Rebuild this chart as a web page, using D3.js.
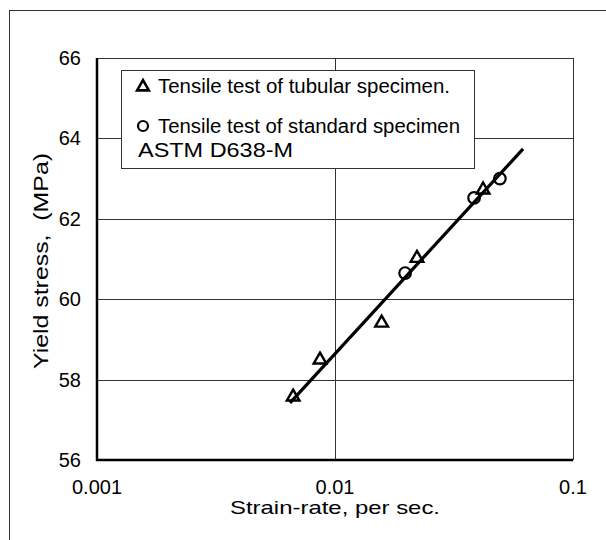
<!DOCTYPE html>
<html>
<head>
<meta charset="utf-8">
<script src="https://cdn.jsdelivr.net/npm/d3@7"></script>
<style>
  body { margin: 0; background: #fff; }
  svg { display: block; font-family: "Liberation Sans", Arial, sans-serif; }
</style>
</head>
<body>
<div class="visualization"></div>
<script>
// strain-rate (per sec) and yield stress (MPa)
const tubularRate = [0.00667, 0.00865, 0.0157, 0.0221, 0.0419];
const tubularStress = [57.57, 58.49, 59.41, 61.02, 62.72];
const standardRate = [0.0197, 0.0384, 0.0493];
const standardStress = [60.65, 62.52, 63.0];
const fitRate = [0.00647, 0.0617];
const fitStress = [57.42, 63.74];
const xTicks = [0.001, 0.01, 0.1];
const xTickLabels = ['0.001', '0.01', '0.1'];
const yTicks = [56, 58, 60, 62, 64, 66];
const legendLabels = ['Tensile test of tubular specimen.', 'Tensile test of standard specimen', 'ASTM D638-M'];

const width = 606, height = 540;
const margin = {top: 58, left: 97, right: 33, bottom: 80};

const svg = d3.select('.visualization').append('svg')
    .attr('width', width)
    .attr('height', height);

// outer frame (runs off the right and bottom of the picture)
svg.append('rect')
    .attr('x', 9.5).attr('y', 10.5)
    .attr('width', 620).attr('height', 560)
    .attr('fill', 'none')
    .attr('stroke', '#333')
    .attr('stroke-width', 1);

const x = d3.scaleLog()
    .domain([0.001, 0.1])
    .range([margin.left, width - margin.right]);
const y = d3.scaleLinear()
    .domain([56, 66])
    .range([height - margin.bottom, margin.top]);

const grid = svg.append('g').attr('class', 'grid');
grid.selectAll('.hgrid')
    .data(yTicks.slice(1, -1))
    .enter().append('line')
    .attr('x1', x.range()[0]).attr('x2', x.range()[1])
    .attr('y1', d => Math.round(y(d)) + 0.5).attr('y2', d => Math.round(y(d)) + 0.5)
    .attr('stroke', '#333').attr('stroke-width', 1);
grid.selectAll('.vgrid')
    .data(xTicks.slice(1, -1))
    .enter().append('line')
    .attr('x1', d => Math.round(x(d)) + 0.5).attr('x2', d => Math.round(x(d)) + 0.5)
    .attr('y1', y.range()[1]).attr('y2', y.range()[0])
    .attr('stroke', '#333').attr('stroke-width', 1);

// plot frame: thin top/right, heavy left/bottom
svg.append('line')
    .attr('x1', x.range()[0]).attr('x2', x.range()[1])
    .attr('y1', y(66) + 0.5).attr('y2', y(66) + 0.5)
    .attr('stroke', '#333').attr('stroke-width', 1);
svg.append('line')
    .attr('x1', x.range()[1] + 0.5).attr('x2', x.range()[1] + 0.5)
    .attr('y1', y.range()[1]).attr('y2', y.range()[0])
    .attr('stroke', '#333').attr('stroke-width', 1);
svg.append('line')
    .attr('x1', x.range()[0]).attr('x2', x.range()[0])
    .attr('y1', y.range()[1]).attr('y2', y.range()[0] + 1)
    .attr('stroke', '#000').attr('stroke-width', 2.5);
svg.append('line')
    .attr('x1', x.range()[0] - 1).attr('x2', x.range()[1])
    .attr('y1', y.range()[0]).attr('y2', y.range()[0])
    .attr('stroke', '#000').attr('stroke-width', 2.5);

// tick labels
svg.append('g').selectAll('text')
    .data(yTicks)
    .enter().append('text')
    .attr('x', 81)
    .attr('y', d => y(d))
    .attr('dy', '0.35em')
    .attr('text-anchor', 'end')
    .style('font-size', '20px')
    .text(d => d);
svg.append('g').selectAll('text')
    .data(xTicks)
    .enter().append('text')
    .attr('x', d => x(d))
    .attr('y', 487)
    .attr('dy', '0.35em')
    .attr('text-anchor', 'middle')
    .style('font-size', '20px')
    .text((d, i) => xTickLabels[i]);

// axis titles (the scan is a little wider than the font)
svg.append('text')
    .attr('x', (x.range()[0] + x.range()[1]) / 2)
    .attr('y', 507)
    .attr('dy', '0.35em')
    .attr('text-anchor', 'middle')
    .attr('textLength', 210)
    .attr('lengthAdjust', 'spacingAndGlyphs')
    .style('font-size', '19px')
    .text('Strain-rate, per sec.');
svg.append('text')
    .attr('transform', 'translate(41,261) rotate(-90)')
    .attr('dy', '0.35em')
    .attr('text-anchor', 'middle')
    .attr('textLength', 216)
    .attr('lengthAdjust', 'spacingAndGlyphs')
    .attr('xml:space', 'preserve')
    .style('font-size', '20px')
    .style('white-space', 'pre')
    .text('Yield stress,  (MPa)');

// fitted line
const fitLine = d3.line()
    .x(d => x(d[0]))
    .y(d => y(d[1]));
svg.append('path')
    .datum(fitRate.map((r, i) => [r, fitStress[i]]))
    .attr('d', fitLine)
    .attr('fill', 'none')
    .attr('stroke', '#000')
    .attr('stroke-width', 3.2);

const triangle = d3.symbol().type(d3.symbolTriangle).size(70);

svg.append('g').selectAll('path')
    .data(tubularRate.map((r, i) => [r, tubularStress[i]]))
    .enter().append('path')
    .attr('d', triangle)
    .attr('transform', d => `translate(${x(d[0])},${y(d[1])})`)
    .attr('fill', 'none')
    .attr('stroke', '#000')
    .attr('stroke-width', 2.4);

svg.append('g').selectAll('circle')
    .data(standardRate.map((r, i) => [r, standardStress[i]]))
    .enter().append('circle')
    .attr('cx', d => x(d[0]))
    .attr('cy', d => y(d[1]))
    .attr('r', 5.8)
    .attr('fill', 'none')
    .attr('stroke', '#000')
    .attr('stroke-width', 2.2);

// legend
const legend = svg.append('g').attr('class', 'legend');
legend.append('rect')
    .attr('x', 121.5).attr('y', 70.5)
    .attr('width', 353).attr('height', 98)
    .attr('fill', '#fff')
    .attr('stroke', '#333')
    .attr('stroke-width', 1);
legend.append('path')
    .attr('d', d3.symbol().type(d3.symbolTriangle).size(60))
    .attr('transform', 'translate(143,87)')
    .attr('fill', 'none')
    .attr('stroke', '#000')
    .attr('stroke-width', 2.6);
legend.append('circle')
    .attr('cx', 143).attr('cy', 126)
    .attr('r', 5)
    .attr('fill', 'none')
    .attr('stroke', '#000')
    .attr('stroke-width', 2.2);
const legendLength = [292, 302, 155];
legend.selectAll('text')
    .data(legendLabels)
    .enter().append('text')
    .attr('x', (d, i) => i < 2 ? 158 : 138)
    .attr('y', (d, i) => [86, 126, 150][i])
    .attr('dy', '0.35em')
    .attr('textLength', (d, i) => legendLength[i])
    .attr('lengthAdjust', 'spacingAndGlyphs')
    .style('font-size', '20px')
    .text(d => d);
</script>
</body>
</html>
